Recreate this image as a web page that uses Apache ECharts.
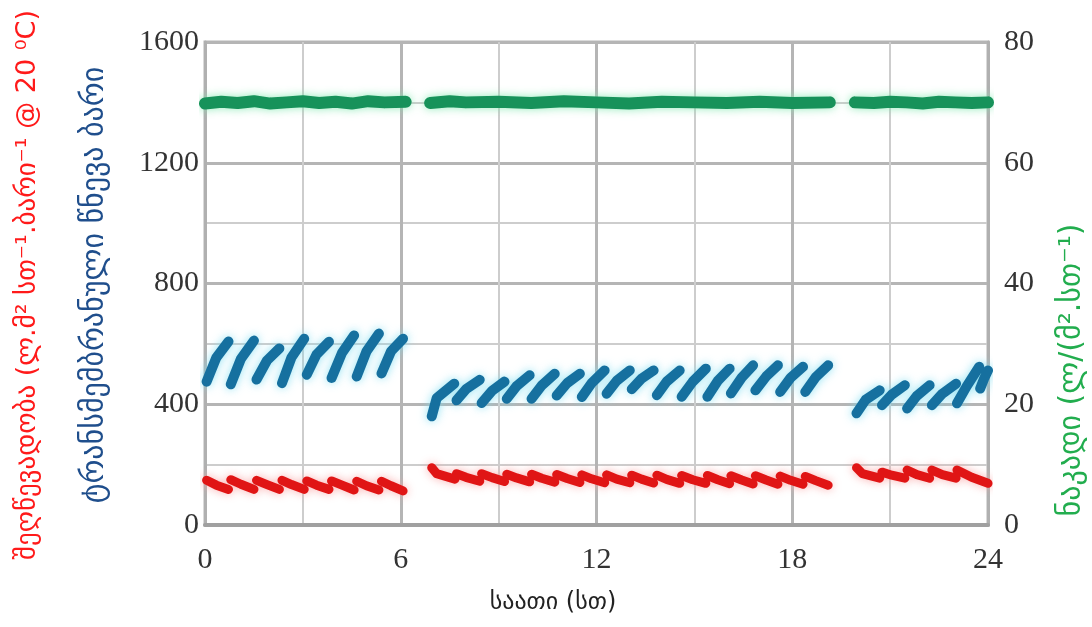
<!DOCTYPE html>
<html><head><meta charset="utf-8">
<script src="https://cdn.jsdelivr.net/npm/echarts@6/dist/echarts.min.js"></script>
<style>html,body{margin:0;padding:0;background:#fff}#c{width:1092px;height:627px}</style>
</head><body><div id="c"></div>
<script>
// x axis ticks (hours) and y ticks
const xTicks = [0, 6, 12, 18, 24];
const leftTicks = [0, 400, 800, 1200, 1600];
const rightTicks = [0, 20, 40, 60, 80];

// Transmembrane pressure teeth (left axis) [hour, value]
const blueTeeth = [
 [[0.05,475],[0.35,555],[0.72,608]],
 [[0.79,466],[1.10,550],[1.50,611]],
 [[1.58,482],[1.90,545],[2.28,585]],
 [[2.36,470],[2.65,555],[3.04,617]],
 [[3.12,498],[3.42,565],[3.80,607]],
 [[3.88,487],[4.20,570],[4.57,628]],
 [[4.65,492],[4.95,575],[5.33,634]],
 [[5.41,502],[5.70,575],[6.07,617]],
 [[6.95,360],[7.10,420],[7.64,468]],
 [[7.71,413],[8.00,450],[8.42,481]],
 [[8.48,404],[8.80,445],[9.18,475]],
 [[9.25,418],[9.55,460],[9.95,496]],
 [[10.01,418],[10.32,462],[10.72,501]],
 [[10.78,429],[11.10,470],[11.49,501]],
 [[11.55,424],[11.85,470],[12.25,512]],
 [[12.31,435],[12.62,478],[13.02,512]],
 [[13.08,450],[13.38,485],[13.75,512]],
 [[13.85,430],[14.15,475],[14.55,512]],
 [[14.61,425],[14.95,475],[15.35,518]],
 [[15.40,425],[15.72,478],[16.08,518]],
 [[16.12,436],[16.45,488],[16.80,529]],
 [[16.87,446],[17.20,492],[17.56,529]],
 [[17.63,441],[17.95,488],[18.33,524]],
 [[18.40,441],[18.72,490],[19.10,529]],
 [[19.97,370],[20.25,415],[20.68,446]],
 [[20.75,397],[21.05,432],[21.45,463]],
 [[21.52,386],[21.82,428],[22.21,463]],
 [[22.28,397],[22.60,435],[23.02,468]],
 [[23.05,403],[23.35,460],[23.73,524]],
 [[23.76,452],[23.88,485],[24.00,512]]
];

// Permeability teeth (left axis) [hour, value]
const redTeeth = [
 [[0.05,148],[0.35,132],[0.72,118]],
 [[0.79,150],[1.10,135],[1.50,118]],
 [[1.58,148],[1.90,134],[2.28,118]],
 [[2.36,148],[2.65,134],[3.04,118]],
 [[3.12,146],[3.42,132],[3.80,118]],
 [[3.88,146],[4.20,132],[4.57,116]],
 [[4.65,145],[4.95,130],[5.33,116]],
 [[5.41,145],[5.70,130],[6.07,113]],
 [[6.95,190],[7.10,170],[7.66,152]],
 [[7.71,170],[8.00,158],[8.42,145]],
 [[8.48,170],[8.80,157],[9.18,144]],
 [[9.25,168],[9.55,156],[9.95,143]],
 [[10.01,168],[10.32,155],[10.72,142]],
 [[10.78,167],[11.10,154],[11.49,141]],
 [[11.55,166],[11.85,153],[12.25,140]],
 [[12.31,166],[12.62,152],[13.02,140]],
 [[13.08,165],[13.38,152],[13.75,139]],
 [[13.85,165],[14.15,151],[14.55,138]],
 [[14.61,164],[14.95,150],[15.35,138]],
 [[15.40,164],[15.72,150],[16.08,137]],
 [[16.12,163],[16.45,149],[16.80,136]],
 [[16.87,163],[17.20,149],[17.56,135]],
 [[17.63,162],[17.95,148],[18.33,135]],
 [[18.40,161],[18.72,147],[19.10,132]],
 [[19.97,190],[20.15,170],[20.68,155]],
 [[20.75,175],[21.05,165],[21.45,155]],
 [[21.52,182],[21.82,167],[22.21,155]],
 [[22.28,182],[22.60,167],[23.02,155]],
 [[23.05,182],[23.50,158],[24.00,138]]
];

// Flux segments (right axis) [hour, value]
const greenSegs = [
 [[0.00,69.8],[0.5,70.1],[1.0,69.9],[1.5,70.2],[2.0,69.8],[2.5,70.0],[3.0,70.2],[3.5,69.9],[4.0,70.1],[4.5,69.8],[5.0,70.2],[5.5,70.0],[6.15,70.1]],
 [[6.90,69.9],[7.5,70.2],[8.0,70.0],[9.0,70.1],[10.0,69.9],[11.0,70.2],[12.0,70.0],[13.0,69.8],[14.0,70.1],[15.0,70.0],[16.0,69.9],[17.0,70.1],[18.0,69.9],[19.15,70.0]],
 [[19.92,70.0],[20.5,69.9],[21.0,70.1],[21.5,70.0],[22.0,69.8],[22.5,70.1],[23.0,70.0],[23.5,69.9],[24.0,70.0]]
];

const xName = 'საათი (სთ)';
const redName = 'შეღწევადობა (ლ.მ² სთ⁻¹.ბარი⁻¹ @ 20 ⁰C)';
const blueName = 'ტრანსმემბრანული წნევა ბარი';
const greenName = 'ნაკადი (ლ/(მ².სთ⁻¹)';

function joinSegs(segs){
  const out = [];
  segs.forEach((s,i)=>{ if(i>0) out.push([s[0][0], '-']); s.forEach(p=>out.push(p)); });
  return out;
}

const chart = echarts.init(document.getElementById('c'));
const tickFont = {fontFamily:'Liberation Serif', fontSize:30, color:'#333'};
chart.setOption({
  animation:false,
  grid:{left:205, right:104, top:42, bottom:102, show:true, borderColor:'#b5b5b5', borderWidth:3},
  xAxis:{type:'value', min:0, max:24, interval:6,
    axisLine:{show:true, lineStyle:{color:'#a0a0a0', width:4}},
    axisTick:{show:false},
    axisLabel:Object.assign({margin:20, formatter:v=>xTicks.includes(v)?String(v):''}, tickFont),
    splitLine:{show:true, lineStyle:{color:'#b5b5b5', width:3}},
    minorTick:{show:false, splitNumber:2},
    minorSplitLine:{show:true, lineStyle:{color:'#cdcdcd', width:2}}
  },
  yAxis:[
    {type:'value', min:0, max:1600, interval:400, position:'left',
     axisLine:{show:true, lineStyle:{color:'#b0b0b0', width:3}},
     axisTick:{show:false},
     axisLabel:Object.assign({margin:6, formatter:v=>leftTicks.includes(v)?String(v):''}, tickFont),
     splitLine:{show:true, lineStyle:{color:'#b5b5b5', width:3}},
     minorTick:{show:false, splitNumber:2},
     minorSplitLine:{show:true, lineStyle:{color:'#cdcdcd', width:2}}
    },
    {type:'value', min:0, max:80, interval:20, position:'right',
     axisLine:{show:true, lineStyle:{color:'#b0b0b0', width:3}},
     axisTick:{show:false},
     axisLabel:Object.assign({margin:16, formatter:v=>rightTicks.includes(v)?String(v):''}, tickFont),
     splitLine:{show:false}
    }
  ],
  series:[
    {type:'line', yAxisIndex:1, data:joinSegs(greenSegs), symbol:'none', connectNulls:false,
     lineStyle:{color:'#17925a', width:12, cap:'round', join:'round', shadowColor:'rgba(120,230,170,0.8)', shadowBlur:10}},
    {type:'line', yAxisIndex:0, data:joinSegs(blueTeeth), symbol:'none', connectNulls:false,
     lineStyle:{color:'#16709f', width:10, cap:'round', join:'round', shadowColor:'rgba(120,220,240,0.8)', shadowBlur:10}},
    {type:'line', yAxisIndex:0, data:joinSegs(redTeeth), symbol:'none', connectNulls:false,
     lineStyle:{color:'#e01515', width:9, cap:'round', join:'round', shadowColor:'rgba(250,160,160,0.8)', shadowBlur:10}}
  ],
  graphic:[
    {type:'text', x:28, y:285, rotation:Math.PI/2, style:{text:redName, fill:'#ff1a1a', font:'27px "DejaVu Sans"', textAlign:'center', textVerticalAlign:'middle', align:'center', verticalAlign:'middle'}},
    {type:'text', x:95, y:285, rotation:Math.PI/2, style:{text:blueName, fill:'#1f4e8c', font:'30px "DejaVu Sans"', textAlign:'center', textVerticalAlign:'middle', align:'center', verticalAlign:'middle'}},
    {type:'text', x:1072, y:370, rotation:Math.PI/2, style:{text:greenName, fill:'#22ad4e', font:'30px "DejaVu Sans"', textAlign:'center', textVerticalAlign:'middle', align:'center', verticalAlign:'middle'}},
    {type:'text', x:553, y:603, style:{text:xName, fill:'#222', font:'24px "DejaVu Sans"', textAlign:'center', textVerticalAlign:'middle', align:'center', verticalAlign:'middle'}}
  ]
});
</script></body></html>
